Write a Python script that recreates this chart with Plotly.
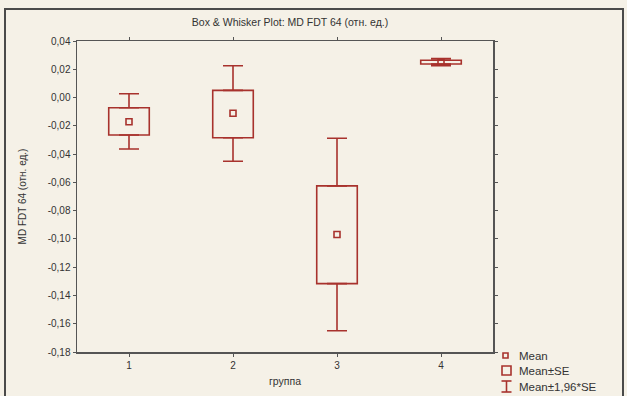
import plotly.graph_objects as go

groups = [1, 2, 3, 4]
means = [-0.0171, -0.0111, -0.0969, 0.0250]
se_low = [-0.0265, -0.0284, -0.1316, 0.0237]
se_high = [-0.0072, 0.0051, -0.0625, 0.0264]
ci_low = [-0.0364, -0.0451, -0.1650, 0.0226]
ci_high = [0.0027, 0.0225, -0.0288, 0.0276]

ytick_vals = [0.04, 0.02, 0.00, -0.02, -0.04, -0.06, -0.08, -0.10, -0.12, -0.14, -0.16, -0.18]
ytick_text = ["0,04", "0,02", "0,00", "-0,02", "-0,04", "-0,06", "-0,08", "-0,10", "-0,12", "-0,14", "-0,16", "-0,18"]
xtick_text = ["1", "2", "3", "4"]
legend_labels = ["Mean", "Mean±SE", "Mean±1,96*SE"]

RED = "#a8322d"
AXC = "#555555"
TXT = "#333333"
BEIGE = "#f5f1e7"
FRAME = "#4a4a4a"
FONT = "Liberation Sans, Arial, sans-serif"

W, H = 627, 396
PL, PR, PT, PB = 77, 493, 41, 352  # plot-area edges in pixels


def px(x):
    return x / W


def py(y):
    return 1 - y / H


fig = go.Figure()

# full-figure pixel axes (x / y): white plot panel and the outer frame
fig.add_trace(go.Scatter(
    x=[PL, PR, PR, PL, PL], y=[PT, PT, PB, PB, PT], mode="lines", fill="toself",
    fillcolor="white", line=dict(width=0, color="white"), xaxis="x", yaxis="y",
    showlegend=False, hoverinfo="skip",
))
fig.add_trace(go.Scatter(
    x=[5, 5, 623, 623], y=[H, 9, 9, H], mode="lines",
    line=dict(color=FRAME, width=2), xaxis="x", yaxis="y",
    showlegend=False, hoverinfo="skip", cliponaxis=False,
))

# boxes: Mean ± SE
fig.add_trace(go.Bar(
    x=groups, base=se_low, y=[h - l for h, l in zip(se_high, se_low)],
    width=0.39, marker=dict(color="rgba(255,255,255,0)", line=dict(color=RED, width=1.6)),
    name=legend_labels[1], showlegend=False, hoverinfo="skip", xaxis="x2", yaxis="y2",
))
# upper whiskers
fig.add_trace(go.Scatter(
    x=groups, y=se_high, mode="markers", marker=dict(size=0.1, color="rgba(0,0,0,0)"),
    error_y=dict(type="data", symmetric=False, array=[c - s for c, s in zip(ci_high, se_high)],
                 arrayminus=[0, 0, 0, 0], color=RED, thickness=1.6, width=10),
    showlegend=False, hoverinfo="skip", xaxis="x2", yaxis="y2",
))
# lower whiskers
fig.add_trace(go.Scatter(
    x=groups, y=se_low, mode="markers", marker=dict(size=0.1, color="rgba(0,0,0,0)"),
    error_y=dict(type="data", symmetric=False, array=[0, 0, 0, 0],
                 arrayminus=[s - c for s, c in zip(se_low, ci_low)], color=RED, thickness=1.6, width=10),
    showlegend=False, hoverinfo="skip", xaxis="x2", yaxis="y2",
))
# means
fig.add_trace(go.Scatter(
    x=groups, y=means, mode="markers",
    marker=dict(symbol="square-open", size=6, color=RED, line=dict(width=1.6, color=RED)),
    name=legend_labels[0], showlegend=False, xaxis="x2", yaxis="y2",
))

fig.update_layout(
    width=W, height=H,
    margin=dict(l=0, r=0, t=0, b=0),
    paper_bgcolor=BEIGE, plot_bgcolor=BEIGE,
    font=dict(family=FONT, size=10, color=TXT),
    title=dict(text="Box & Whisker Plot: MD FDT 64 (отн. ед.)", x=290 / W, xanchor="center",
               y=1 - 22 / H, yanchor="middle", font=dict(size=10.5, color=TXT)),
    showlegend=False,
    bargap=0,
    hovermode=False,
    xaxis=dict(domain=[0, 1], range=[0, W], visible=False, fixedrange=True),
    yaxis=dict(domain=[0, 1], range=[H, 0], visible=False, fixedrange=True),
    xaxis2=dict(domain=[px(PL), px(PR)], anchor="y2", range=[0.5, 4.5], tickvals=groups,
                ticktext=xtick_text, automargin=False, showgrid=False, zeroline=False,
                showline=True, linecolor=AXC, linewidth=1.5, mirror="ticks", ticks="outside",
                ticklen=3, tickcolor=AXC, fixedrange=True,
                title=dict(text="группа", font=dict(size=10.5), standoff=8)),
    yaxis2=dict(domain=[py(PB), py(PT)], anchor="x2", range=[-0.18, 0.04], tickvals=ytick_vals,
                ticktext=ytick_text, automargin=False, showgrid=False, zeroline=False,
                showline=True, linecolor=AXC, linewidth=1.5, mirror="ticks", ticks="outside",
                ticklen=3, tickcolor=AXC, fixedrange=True,
                title=dict(text="MD FDT 64 (отн. ед.)", font=dict(size=10), standoff=19)),
)

# custom legend icons
fig.add_shape(type="rect", xref="paper", yref="paper",
              x0=px(503), x1=px(508), y0=py(358), y1=py(353),
              line=dict(color=RED, width=1.6))
fig.add_shape(type="rect", xref="paper", yref="paper",
              x0=px(502), x1=px(511), y0=py(375), y1=py(366),
              line=dict(color=RED, width=1.6))
for y0, y1, xa, xb in [(381, 381, 501.5, 511.5), (392, 392, 501.5, 511.5), (381, 392, 506.5, 506.5)]:
    fig.add_shape(type="line", xref="paper", yref="paper",
                  x0=px(xa), x1=px(xb), y0=py(y0), y1=py(y1),
                  line=dict(color=RED, width=1.6))
for lab, yc in zip(legend_labels, [356, 371, 387]):
    fig.add_annotation(text=lab, xref="paper", yref="paper", x=px(517), y=py(yc),
                       xanchor="left", yanchor="middle", showarrow=False,
                       font=dict(size=11.5, color=TXT))

fig.write_html("out.html", config={"displayModeBar": False, "staticPlot": True},
               post_script="document.body.style.margin='0';document.body.style.overflow='hidden';")
